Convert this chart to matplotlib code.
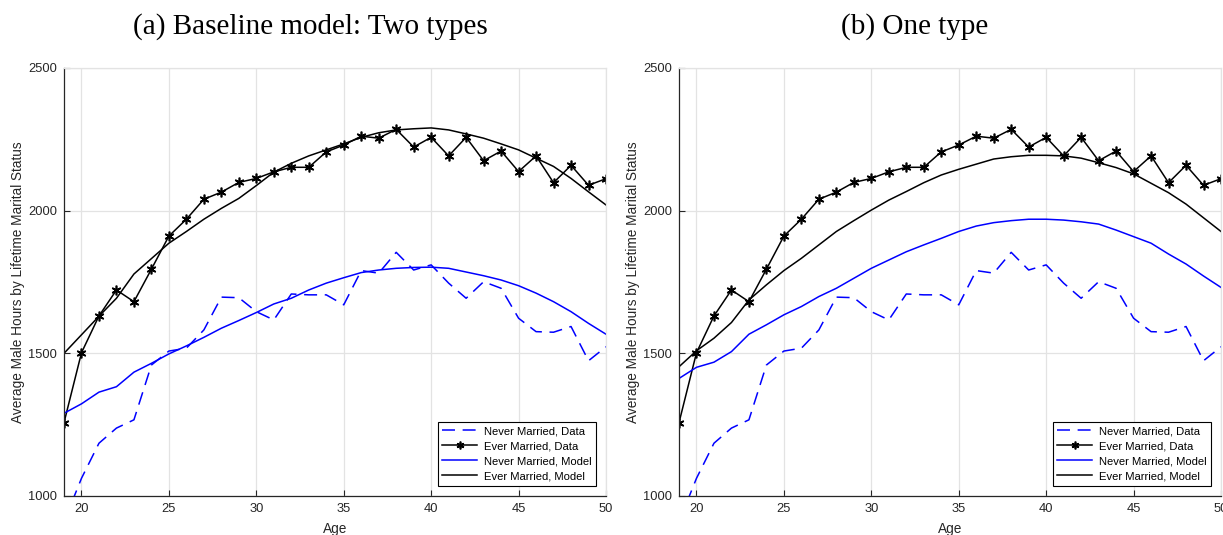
import matplotlib
matplotlib.use("Agg")
import matplotlib.pyplot as plt
import numpy as np

plt.rcParams['font.family'] = ['Liberation Sans', 'DejaVu Sans']

ages = list(range(19, 51))

never_data = [910, 1062, 1185, 1238, 1267, 1459, 1508, 1518, 1582, 1697, 1695,
              1646, 1617, 1708, 1705, 1705, 1670, 1790, 1781, 1854, 1792, 1810,
              1746, 1693, 1751, 1728, 1623, 1576, 1574, 1594, 1474, 1523]
ever_data = [1257, 1502, 1631, 1722, 1681, 1795, 1911, 1970, 2040, 2065, 2099,
             2113, 2136, 2152, 2152, 2206, 2230, 2261, 2254, 2285, 2223, 2257,
             2192, 2257, 2175, 2209, 2137, 2192, 2098, 2159, 2089, 2112]

# (a) Baseline model: two types
never_model_a = [1290, 1323, 1364, 1383, 1434, 1465, 1498, 1526, 1556, 1588, 1615,
                 1643, 1673, 1693, 1722, 1746, 1765, 1783, 1792, 1798, 1801, 1802,
                 1798, 1785, 1772, 1757, 1737, 1711, 1681, 1646, 1605, 1567]
ever_model_a = [1500, 1565, 1630, 1693, 1778, 1832, 1886, 1927, 1970, 2008, 2043,
                2088, 2135, 2166, 2192, 2213, 2234, 2257, 2273, 2283, 2287, 2290,
                2283, 2269, 2254, 2234, 2213, 2184, 2155, 2113, 2066, 2020]

# (b) One type
never_model_b = [1412, 1451, 1469, 1506, 1567, 1600, 1635, 1664, 1699, 1728, 1763,
                 1798, 1827, 1856, 1880, 1903, 1927, 1946, 1958, 1965, 1970, 1970,
                 1967, 1961, 1953, 1932, 1909, 1886, 1848, 1813, 1771, 1731]
ever_model_b = [1453, 1509, 1553, 1608, 1687, 1740, 1790, 1833, 1880, 1927, 1965,
                2002, 2037, 2067, 2098, 2125, 2145, 2163, 2181, 2189, 2194, 2194,
                2192, 2184, 2168, 2151, 2129, 2096, 2063, 2023, 1975, 1927]

titles = ["(a) Baseline model: Two types", "(b) One type"]
legend_labels = ["Never Married, Data", "Ever Married, Data",
                 "Never Married, Model", "Ever Married, Model"]
xticks = [20, 25, 30, 35, 40, 45, 50]
yticks = [1000, 1500, 2000, 2500]

fig = plt.figure(figsize=(12.23, 5.35), dpi=100)
axes_pos = [[64/1223, 1-496/535, 542/1223, 428/535],
            [679/1223, 1-496/535, 542/1223, 428/535]]
models = [(never_model_a, ever_model_a), (never_model_b, ever_model_b)]
title_x = [310/1223, 915/1223]

dark = '#262626'
for i in range(2):
    ax = fig.add_axes(axes_pos[i])
    nm, em = models[i]
    ax.plot(ages, never_data, color='blue', lw=1.1, ls='--', dashes=(8.5, 5))
    ax.plot(ages, ever_data, color='black', lw=1.1, marker=(6, 2, 0), ms=7, mew=1.2)
    ax.plot(ages, nm, color='blue', lw=1.1)
    ax.plot(ages, em, color='black', lw=1.1)
    ax.set_xlim(19, 50)
    ax.set_ylim(1000, 2500)
    ax.set_xticks(xticks)
    ax.set_yticks(yticks)
    ax.grid(True, color='#e3e3e3', lw=0.9)
    ax.set_axisbelow(True)
    for s in ['top', 'right']:
        ax.spines[s].set_color('#e3e3e3')
        ax.spines[s].set_linewidth(0.9)
    for s in ['left', 'bottom']:
        ax.spines[s].set_color(dark)
        ax.spines[s].set_linewidth(0.9)
    ax.tick_params(direction='in', length=4, width=0.8, colors=dark,
                   labelsize=9.3, pad=5, top=False, right=False)
    ax.set_xlabel("Age", fontsize=9.8, color=dark)
    ax.set_ylabel("Average Male Hours by Lifetime Marital Status", fontsize=9.8, color=dark)
    ax.yaxis.set_label_coords(-0.072, 0.5)
    ax.xaxis.set_label_coords(0.5, -0.061)
    leg = ax.legend(legend_labels, loc='lower right', fontsize=8.1,
                    fancybox=False, framealpha=1, edgecolor='black',
                    handlelength=3.1, handletextpad=0.6, labelspacing=0.45,
                    borderaxespad=0.9, borderpad=0.4, markerscale=0.8)
    leg.get_frame().set_linewidth(0.8)
    fig.text(title_x[i], 1-27/535, titles[i], ha='center', va='center',
             fontsize=21, family=['Liberation Serif', 'DejaVu Serif'])

fig.savefig("out.png", dpi=100)
